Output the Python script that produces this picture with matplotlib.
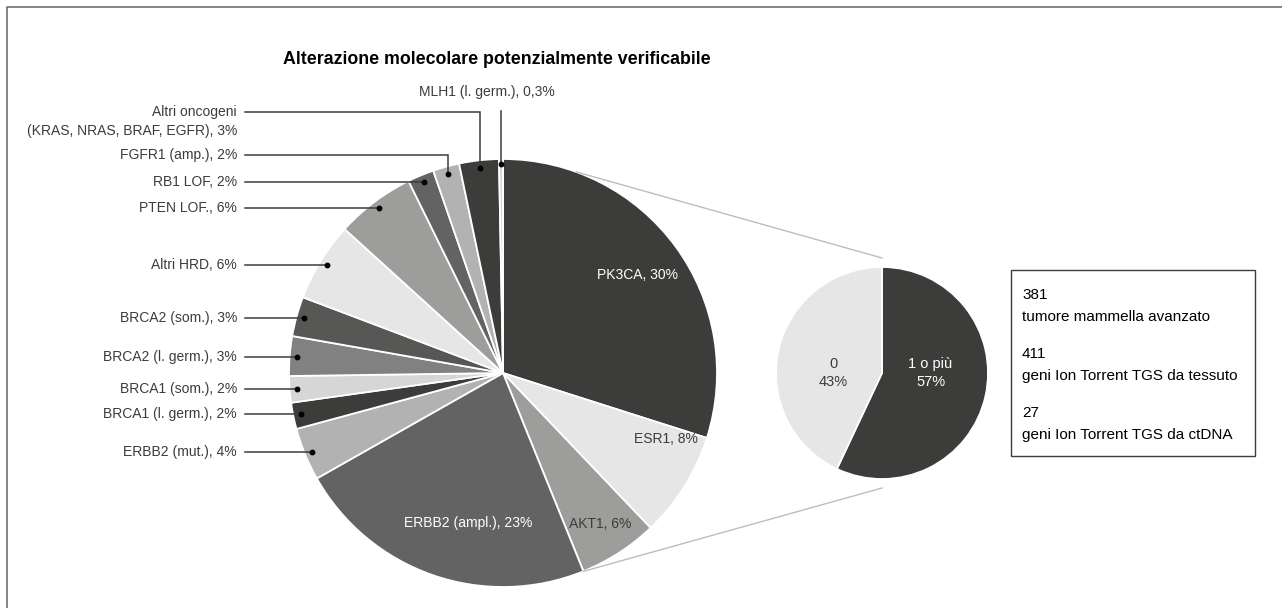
import numpy as np
import matplotlib.pyplot as plt
from matplotlib.patches import Rectangle

plt.rcParams["font.family"] = ["Liberation Sans", "DejaVu Sans"]

W, H = 1282, 608

# main pie, clockwise from 12 o'clock
slice_names = ["PK3CA", "ESR1", "AKT1", "ERBB2 (ampl.)", "ERBB2 (mut.)",
               "BRCA1 (l. germ.)", "BRCA1 (som.)", "BRCA2 (l. germ.)",
               "BRCA2 (som.)", "Altri HRD", "PTEN LOF.", "RB1 LOF",
               "FGFR1 (amp.)", "Altri oncogeni\n(KRAS, NRAS, BRAF, EGFR)",
               "MLH1 (l. germ.)"]
slice_shares = [30, 8, 6, 23, 4, 2, 2, 3, 3, 6, 6, 2, 2, 3, 0.3]
slice_pct = ["30%", "8%", "6%", "23%", "4%", "2%", "2%", "3%", "3%",
             "6%", "6%", "2%", "2%", "3%", "0,3%"]
slice_colors = ["#3c3c3b", "#e6e6e6", "#9d9d9c", "#646363", "#b2b2b2",
                "#3c3c3b", "#d6d6d6", "#818181", "#575756", "#e6e6e6",
                "#9d9d9c", "#646363", "#b2b2b2", "#3c3c3b", "#d6d6d6"]

# second pie
group_names = ["1 o più", "0"]
group_shares = [57, 43]
group_colors = ["#3c3c3b", "#e6e6e6"]

# info box
info_numbers = ["381", "411", "27"]
info_texts = ["tumore mammella avanzato", "geni Ion Torrent TGS da tessuto",
              "geni Ion Torrent TGS da ctDNA"]

title = "Alterazione molecolare potenzialmente verificabile"

DARK = "#3c3c3b"


def py(y):
    # pixel row (from top) -> data y
    return H - y


fig = plt.figure(figsize=(W / 100, H / 100), dpi=100)
ax = fig.add_axes([0, 0, 1, 1])

# --- main pie ---
c1 = np.array([503, py(373)])
r1 = 214
wedges, _ = ax.pie(slice_shares, colors=slice_colors, startangle=90,
                   counterclock=False, center=c1, radius=r1, frame=True,
                   wedgeprops=dict(edgecolor="white", linewidth=1.3))


def mid_angle(w):
    return np.deg2rad((w.theta1 + w.theta2) / 2)


# labels inside the big slices
inside = {0: (0.78, 0, "white"), 1: (0.82, 10, DARK),
          2: (0.84, 0, DARK), 3: (0.72, 6, "white")}
for i, (rf, shift, col) in inside.items():
    a = mid_angle(wedges[i]) + np.deg2rad(shift)
    x, y = c1 + rf * r1 * np.array([np.cos(a), np.sin(a)])
    ax.text(x, y, f"{slice_names[i]}, {slice_pct[i]}", ha="center",
            va="center", fontsize=10, color=col)

# labels outside with leader lines
text_x, line_x0 = 237, 245
elbow_y = {12: 155, 13: 112}
for i in range(4, 14):
    a = mid_angle(wedges[i])
    dx, dy = c1 + 0.965 * r1 * np.array([np.cos(a), np.sin(a)])
    ly = py(elbow_y[i]) if i in elbow_y else dy
    ax.plot([line_x0, dx, dx], [ly, ly, dy], color=DARK, lw=1.1,
            solid_joinstyle="miter")
    ax.plot(dx, dy, "o", color="black", ms=3.2)
    ax.text(text_x, ly + 7, f"{slice_names[i]}, {slice_pct[i]}", ha="right",
            va="top", fontsize=10, color=DARK, linespacing=1.5)

# MLH1: label above, vertical leader
a = mid_angle(wedges[14])
dx, dy = c1 + 0.975 * r1 * np.array([np.cos(a), np.sin(a)])
ax.plot([dx, dx], [py(111), dy], color=DARK, lw=1.1)
ax.plot(dx, dy, "o", color="black", ms=3.2)
ax.text(487, py(92), f"{slice_names[14]}, {slice_pct[14]}", ha="center",
        va="center", fontsize=10, color=DARK)

# --- second pie ---
c2 = np.array([882, py(373)])
r2 = 106
wedges2, _ = ax.pie(group_shares, colors=group_colors, startangle=90,
                    counterclock=False, center=c2, radius=r2, frame=True,
                    wedgeprops=dict(edgecolor="white", linewidth=1.3))
for w, name, val, col in zip(wedges2, group_names, group_shares,
                             ["white", DARK]):
    a = mid_angle(w)
    x = c2[0] + 0.47 * r2 * np.cos(a)
    ax.text(x, c2[1], f"{name}\n{val}%", ha="center", va="center",
            fontsize=10.5, color=col, linespacing=1.45)

# connector lines between the pies
for ang, end_y in [(20, c2[1] + r2 + 9), (158, c2[1] - r2 - 9)]:
    t = np.deg2rad(90 - ang)
    sx, sy = c1 + r1 * np.array([np.cos(t), np.sin(t)])
    ax.plot([sx, c2[0]], [sy, end_y], color="#bdbdbd", lw=1)

# --- info box ---
box_x0, box_x1, box_y0, box_y1 = 1011, 1255, 270, 456
ax.add_patch(Rectangle((box_x0, py(box_y1)), box_x1 - box_x0,
                       box_y1 - box_y0, fill=False, edgecolor=DARK, lw=1))
for k, (num, txt) in enumerate(zip(info_numbers, info_texts)):
    y0 = box_y0 + 25 + k * 59
    ax.text(box_x0 + 11, py(y0), num, ha="left", va="center",
            fontsize=11, color="black")
    ax.text(box_x0 + 11, py(y0 + 22), txt, ha="left", va="center",
            fontsize=11, color="black")

# title
ax.text(283, py(59), title, ha="left", va="center", fontsize=12.8,
        fontweight="bold", color="black")

# outer frame (left and top edges visible)
ax.plot([7, 7, W + 5], [-5, py(7), py(7)], color="#6f6f6f", lw=1.2)

ax.set_xlim(0, W)
ax.set_ylim(0, H)
ax.set_aspect("auto")
ax.axis("off")

fig.savefig("out.png", dpi=100)
